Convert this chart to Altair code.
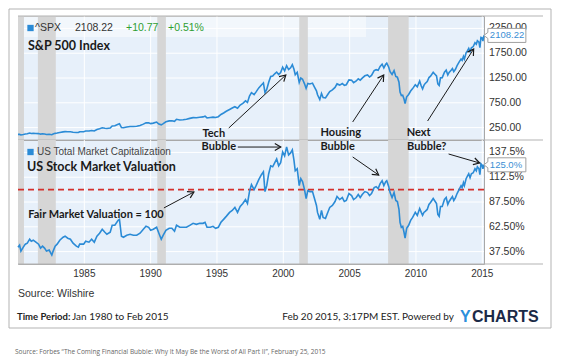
import math
import altair as alt
import pandas as pd

# ---------------- data ----------------
sp_year = [1980.00, 1980.12, 1980.22, 1980.40, 1980.55, 1980.70, 1980.88, 1981.00, 1981.15, 1981.35,
           1981.55, 1981.70, 1981.85, 1982.00, 1982.15, 1982.35, 1982.55, 1982.65, 1982.80, 1982.95,
           1983.15, 1983.40, 1983.55, 1983.75, 1983.95, 1984.15, 1984.40, 1984.55, 1984.65, 1984.95,
           1985.10, 1985.35, 1985.55, 1985.75, 1985.95, 1986.15, 1986.35, 1986.55, 1986.70, 1986.95,
           1987.10, 1987.30, 1987.55, 1987.65, 1987.80, 1987.95, 1988.20, 1988.45, 1988.70, 1988.95,
           1989.20, 1989.45, 1989.65, 1989.85, 1990.00, 1990.20, 1990.45, 1990.62, 1990.80, 1990.95,
           1991.15, 1991.40, 1991.60, 1991.80, 1991.95, 1992.20, 1992.45, 1992.70, 1992.95, 1993.20,
           1993.45, 1993.70, 1993.95, 1994.10, 1994.25, 1994.50, 1994.70, 1994.90, 1995.10, 1995.30,
           1995.50, 1995.70, 1995.95, 1996.15, 1996.35, 1996.55, 1996.75, 1996.95, 1997.15, 1997.30,
           1997.45, 1997.60, 1997.80, 1997.95, 1998.15, 1998.35, 1998.50, 1998.62, 1998.75, 1998.90,
           1999.05, 1999.20, 1999.35, 1999.50, 1999.65, 1999.80, 1999.95, 2000.10, 2000.25, 2000.40,
           2000.55, 2000.68, 2000.80, 2000.90, 2001.05, 2001.20, 2001.32, 2001.45, 2001.60, 2001.72,
           2001.85, 2002.00, 2002.20, 2002.35, 2002.50, 2002.58, 2002.75, 2002.88, 2003.00, 2003.18,
           2003.35, 2003.50, 2003.70, 2003.90, 2004.05, 2004.25, 2004.45, 2004.60, 2004.75, 2004.95,
           2005.15, 2005.30, 2005.50, 2005.65, 2005.80, 2005.95, 2006.15, 2006.35, 2006.50, 2006.65,
           2006.85, 2007.00, 2007.15, 2007.30, 2007.45, 2007.58, 2007.72, 2007.80, 2007.95, 2008.05,
           2008.20, 2008.35, 2008.48, 2008.60, 2008.72, 2008.80, 2008.90, 2009.00, 2009.10, 2009.18,
           2009.30, 2009.45, 2009.60, 2009.75, 2009.95, 2010.10, 2010.28, 2010.40, 2010.50, 2010.60,
           2010.70, 2010.85, 2010.98, 2011.10, 2011.30, 2011.45, 2011.55, 2011.65, 2011.75, 2011.85,
           2011.98, 2012.15, 2012.28, 2012.40, 2012.50, 2012.65, 2012.75, 2012.85, 2012.98, 2013.10,
           2013.25, 2013.40, 2013.48, 2013.58, 2013.65, 2013.78, 2013.90, 2013.98, 2014.08, 2014.18,
           2014.32, 2014.45, 2014.55, 2014.63, 2014.75, 2014.82, 2014.90, 2014.98, 2015.05, 2015.12]

sp_value = [114, 113, 102, 111, 122, 126, 140, 130, 134, 132,
            129, 118, 126, 120, 112, 116, 107, 119, 134, 140,
            153, 164, 168, 166, 165, 157, 151, 150, 166, 167,
            180, 180, 192, 182, 211, 226, 247, 236, 231, 242,
            284, 288, 318, 329, 252, 247, 262, 273, 272, 277,
            294, 320, 346, 346, 330, 340, 361, 322, 306, 330,
            368, 385, 387, 375, 417, 404, 409, 418, 436, 451,
            448, 459, 466, 482, 445, 455, 462, 454, 470, 514,
            545, 580, 616, 645, 670, 640, 705, 740, 790, 757,
            885, 954, 914, 970, 1050, 1110, 1150, 957, 1020, 1165,
            1280, 1290, 1335, 1370, 1320, 1360, 1469, 1394, 1498, 1420,
            1455, 1517, 1430, 1315, 1366, 1160, 1249, 1224, 1133, 1040,
            1139, 1130, 1147, 1067, 990, 911, 815, 936, 855, 848,
            916, 975, 1010, 1060, 1131, 1107, 1140, 1101, 1114, 1212,
            1203, 1156, 1191, 1234, 1207, 1248, 1294, 1310, 1270, 1303,
            1400, 1418, 1406, 1482, 1530, 1455, 1526, 1549, 1468, 1378,
            1322, 1400, 1280, 1267, 1166, 968, 896, 903, 825, 735,
            870, 919, 987, 1036, 1115, 1073, 1187, 1089, 1030, 1101,
            1141, 1180, 1258, 1286, 1363, 1320, 1292, 1131, 1099, 1253,
            1257, 1366, 1408, 1310, 1362, 1406, 1440, 1379, 1426, 1498,
            1569, 1631, 1606, 1685, 1633, 1757, 1806, 1848, 1782, 1859,
            1884, 1960, 1931, 2003, 1972, 1862, 2067, 2059, 1995, 2108.22]

mc_value = [42, 44, 38, 42, 45, 46, 50, 48, 49, 47,
            45, 41, 43, 41, 38, 39, 34, 38, 43, 45,
            49, 52, 53, 51, 50, 46, 43, 42, 45, 45,
            48, 47, 50, 47, 53, 56, 60, 57, 55, 57,
            64, 64, 69, 70, 53, 52, 54, 55, 54, 54,
            56, 60, 63, 62, 59, 60, 62, 56, 50, 54,
            59, 61, 61, 58, 64, 62, 62, 62, 64, 66,
            65, 66, 66, 67, 62, 62, 63, 61, 62, 67,
            70, 73, 77, 79, 82, 77, 83, 86, 90, 86,
            98, 105, 100, 104, 110, 115, 118, 98, 104, 116,
            124, 123, 127, 131, 124, 127, 138, 134, 143, 135,
            137, 140, 130, 119, 121, 104, 111, 108, 100, 91,
            99, 98, 98, 91, 84, 77, 70, 79, 72, 71,
            77, 82, 84, 88, 93, 90, 92, 88, 89, 96,
            94, 90, 92, 95, 92, 95, 98, 97, 94, 96,
            102, 103, 101, 106, 109, 104, 108, 109, 103, 97,
            92, 97, 89, 88, 80, 67, 62, 63, 57, 51,
            61, 64, 69, 72, 77, 74, 81, 77, 74, 77,
            78, 80, 85, 87, 91, 88, 86, 75, 73, 83,
            83, 90, 92, 85, 88, 91, 93, 89, 92, 96,
            100, 104, 102, 107, 104, 111, 114, 116, 112, 116,
            117, 121, 119, 123, 121, 115, 126, 125, 121, 125]

recession_start = [1980.0, 1981.5, 1990.5, 2001.2, 2007.9]
recession_end = [1980.45, 1982.85, 1991.15, 2001.85, 2009.45]

year_ticks = [1985, 1990, 1995, 2000, 2005, 2010, 2015]
year_tick_labels = ["1985", "1990", "1995", "2000", "2005", "2010", "2015"]
sp_ticks = [250, 750, 1250, 1750, 2250]
sp_tick_labels = ["250.00", "750.00", "1250.00", "1750.00", "2250.00"]
val_ticks = [37.5, 62.5, 87.5, 112.5, 137.5]
val_tick_labels = ["37.50%", "62.50%", "87.50%", "112.5%", "137.5%"]
fair_value = 100

# annotations (data coordinates)
top_text = ["Tech", "Housing", "Next"]
top_text_x = [1994.76, 2004.33, 2010.2]
top_text_y = [116, 141, 141]
top_arrow_x1 = [1995.89, 2005.23, 2010.88]
top_arrow_y1 = [242, 363, 383]
top_arrow_x2 = [2000.19, 2007.57, 2014.35]
top_arrow_y2 = [1310, 1310, 1835]

bot_text = ["Bubble", "Bubble", "Bubble?", "Fair Market Valuation = 100"]
bot_text_x = [1995.14, 2004.1, 2010.81, 1985.88]
bot_text_y = [142.9, 142.9, 142.9, 74.4]
bot_arrow_x1 = [1996.57, 2005.23, 2012.46, 1991.0]
bot_arrow_y1 = [142.9, 132.9, 135.9, 81.5]
bot_arrow_x2 = [1999.81, 2007.19, 2014.8, 1993.26]
bot_arrow_y2 = [142.9, 114.7, 126.8, 97.6]

# ---------------- style ----------------
W, H = 466, 124
X0, X1 = 1980, 2015.13
BLUE = "#2b8bd6"
GRID = "#ffffff"
FRAME = "#b3b3b3"
SANS = "Liberation Sans"
CAL = "Lato"
ARROW = "M-1.2,-0.7L0,0L-1.2,0.7"
BOX = "M0,0L0.2,-0.15L0.2,-0.35L2.1,-0.35L2.1,0.35L0.2,0.35L0.2,0.15Z"

x_scale = alt.Scale(domain=[X0, X1], nice=False, zero=False)
top_scale = alt.Scale(domain=[0, 2500], nice=False, zero=False)
bot_scale = alt.Scale(domain=[25, 150], nice=False, zero=False)


def px_x(v):
    return (v - X0) / (X1 - X0) * W


def px_top(v):
    return H * (1 - v / 2500)


def px_bot(v):
    return H * (1 - (v - 25) / 125)


def angles(x1, y1, x2, y2, fy):
    return [math.degrees(math.atan2(fy(d) - fy(b), px_x(c) - px_x(a))) % 360
            for a, b, c, d in zip(x1, y1, x2, y2)]


ONE = alt.Data(values=[{}])


def label(text, x, y, size=10, weight="normal", color="#333333", font=SANS, align="left"):
    return alt.Chart(ONE).mark_text(
        text=text, align=align, baseline="middle", fontSize=size,
        fontWeight=weight, color=color, font=font,
    ).encode(x=alt.value(x), y=alt.value(y))


def hrule(y, x2=525, color=FRAME):
    return alt.Chart(ONE).mark_rule(color=color, strokeWidth=1).encode(
        x=alt.value(0), x2=alt.value(x2), y=alt.value(y))


def X(field):
    return alt.X(field, scale=x_scale, axis=None)


rec_df = pd.DataFrame({"start": recession_start, "end": recession_end})
sp_df = pd.DataFrame({"year": sp_year, "value": sp_value})
mc_df = pd.DataFrame({"year": sp_year, "value": mc_value})
xt_df = pd.DataFrame({"year": year_ticks, "lbl": year_tick_labels})


def panel(df, yscale, ytick_vals, ytick_lbls, fy, tx, ty, ttext, ax1, ay1, ax2, ay2, last_label):
    def Y(field):
        return alt.Y(field, scale=yscale, axis=None)

    yt_df = pd.DataFrame({"v": ytick_vals, "lbl": ytick_lbls})
    vgrid = alt.Chart(xt_df).mark_rule(color=GRID, strokeWidth=1).encode(x=X("year:Q"))
    hgrid = alt.Chart(yt_df).mark_rule(color=GRID, strokeWidth=1).encode(y=Y("v:Q"))
    ylab = alt.Chart(yt_df).mark_text(align="left", baseline="middle", dx=5, fontSize=10.5,
                                      font=SANS, color="#333333").encode(
        x=alt.value(W), y=Y("v:Q"), text="lbl:N")
    rec = alt.Chart(rec_df).mark_rect(color="#d6d6d6").encode(x=X("start:Q"), x2="end:Q")
    line = alt.Chart(df).mark_line(color=BLUE, strokeWidth=1.6).encode(
        x=X("year:Q"), y=Y("value:Q"))
    arr_df = pd.DataFrame({"x1": ax1, "y1": ay1, "x2": ax2, "y2": ay2,
                           "angle": angles(ax1, ay1, ax2, ay2, fy)})
    rules = alt.Chart(arr_df).mark_rule(color="#1a1a1a", strokeWidth=1).encode(
        x=X("x1:Q"), y=Y("y1:Q"), x2="x2:Q", y2="y2:Q")
    heads = alt.Chart(arr_df).mark_point(shape=ARROW, size=100, filled=False, color="#1a1a1a",
                                         strokeWidth=1.2, opacity=1).encode(
        x=X("x2:Q"), y=Y("y2:Q"), angle=alt.Angle("angle:Q", scale=None))
    txt_df = pd.DataFrame({"x": tx, "y": ty, "t": ttext})
    texts = alt.Chart(txt_df).mark_text(font=CAL, fontWeight="bold", fontSize=11,
                                        color="#1a1a1a", align="center", baseline="middle").encode(
        x=X("x:Q"), y=Y("y:Q"), text="t:N")
    last = df.tail(1).assign(lbl=last_label)
    box = alt.Chart(last).mark_point(shape=BOX, size=1600, filled=True, fill="white",
                                     stroke="#a0a0a0", strokeWidth=1, opacity=1).encode(
        x=X("year:Q"), y=Y("value:Q"))
    box_txt = alt.Chart(last).mark_text(align="left", baseline="middle", dx=6, fontSize=9.5,
                                        font=SANS, color="#3b8fd4").encode(
        x=X("year:Q"), y=Y("value:Q"), text="lbl:N")
    return [vgrid, hgrid, rec, line, rules, heads, texts, ylab, box, box_txt]


top_layers = panel(sp_df, top_scale, sp_ticks, sp_tick_labels, px_top,
                   top_text_x, top_text_y, top_text,
                   top_arrow_x1, top_arrow_y1, top_arrow_x2, top_arrow_y2, "2108.22")

header_bg = alt.Chart(ONE).mark_rect(color="white", opacity=0.45).encode(
    x=alt.value(0), x2=alt.value(348), y=alt.value(0), y2=alt.value(21))
frame = alt.Chart(ONE).mark_rect(fill="white", fillOpacity=0, stroke=FRAME, strokeWidth=1).encode(
    x=alt.value(-9), x2=alt.value(533), y=alt.value(-7), y2=alt.value(312))
legend_sq1 = alt.Chart(ONE).mark_square(color=BLUE, size=40, opacity=1).encode(
    x=alt.value(12.5), y=alt.value(12))

top = alt.layer(
    *top_layers[:2], header_bg, *top_layers[2:],
    legend_sq1,
    label("^SPX", 17, 12, size=10.5),
    label("2108.22", 57, 12, size=10.5),
    label("+10.77", 108, 12, size=10.5, color="#2e9e32"),
    label("+0.51%", 150, 12, size=10.5, color="#2e9e32"),
    label("S&P 500 Index", 10, 30, size=12.5, weight="bold", color="#1a1a1a", font=CAL),
    hrule(0), hrule(H), frame,
).properties(width=W, height=H)

bot_layers = panel(mc_df, bot_scale, val_ticks, val_tick_labels, px_bot,
                   bot_text_x, bot_text_y, bot_text,
                   bot_arrow_x1, bot_arrow_y1, bot_arrow_x2, bot_arrow_y2, "125.0%")

fair = alt.Chart(ONE).mark_rule(color="#d42f2b", strokeWidth=1.6, strokeDash=[6, 4]).encode(
    y=alt.datum(fair_value, scale=bot_scale, axis=None))
legend_sq2 = alt.Chart(ONE).mark_square(color=BLUE, size=40, opacity=1).encode(
    x=alt.value(12.5), y=alt.value(12))
xlab = alt.Chart(xt_df).mark_text(baseline="top", dy=5, fontSize=10, font=SANS,
                                  color="#333333").encode(
    x=X("year:Q"), y=alt.value(H), text="lbl:N")

bottom = alt.layer(
    *bot_layers[:3], fair, *bot_layers[3:], xlab,
    legend_sq2,
    label("US Total Market Capitalization", 19, 12, size=10, color="#444444"),
    label("US Stock Market Valuation", 9, 27, size=12.5, weight="bold", color="#1a1a1a", font=CAL),
    label("Source: Wilshire", 0, 154, size=10.5, color="#333333"),
    label("Time Period:", -1, 177, size=9.5, weight="bold", color="#222222", font=CAL),
    label("Jan 1980 to Feb 2015", 54, 177, size=10, color="#222222", font=CAL),
    label("Feb 20 2015, 3:17PM EST. Powered by", 436, 177, size=10, color="#222222",
          font=CAL, align="right"),
    label("Y", 442, 177, size=16, weight="bold", color="#2a8fdc", font=SANS),
    label("CHARTS", 454, 177, size=16, weight="bold", color="#1b2a47", font=SANS),
    label("Source: Forbes \u201cThe Coming Financial Bubble: Why It May Be the Worst of All Part II\u201d, February 25, 2015",
          -3, 212, size=6.5, color="#666666", font="Open Sans"),
    hrule(H),
).properties(width=W, height=H)

chart = alt.vconcat(top, bottom, spacing=0, bounds="flush").properties(
    padding=0, background="white"
).configure_view(
    fill="#e7f0fa", stroke="#a8a8a8", strokeWidth=1
)

chart.save("out.html", embed_options={"renderer": "svg", "actions": False})
